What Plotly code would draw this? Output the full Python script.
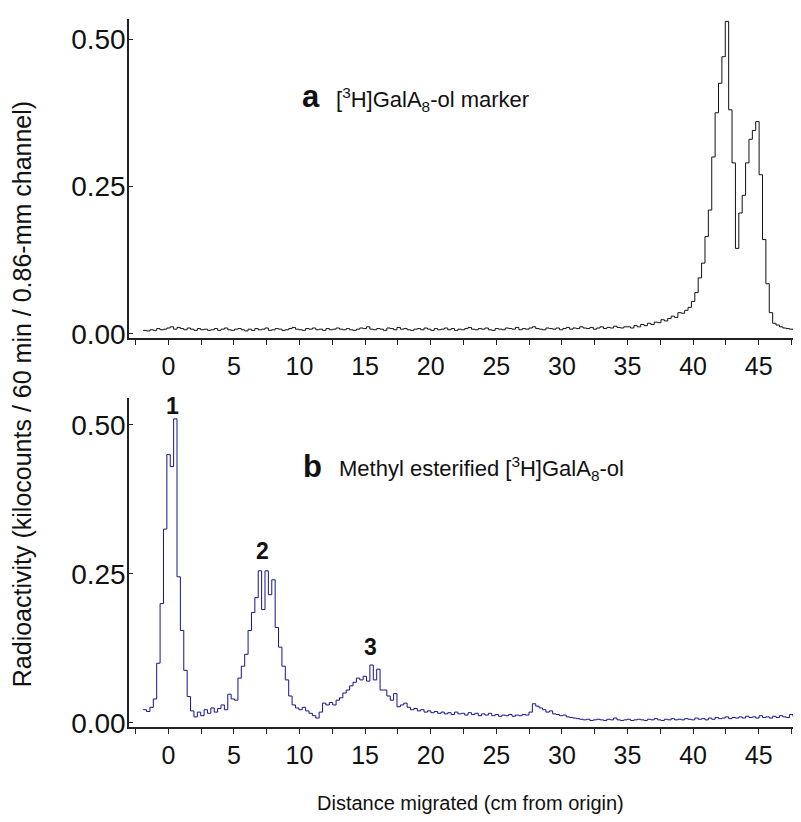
import plotly.graph_objects as go

# channel positions (cm from origin), 3 x 0.86-mm channels per point
x_start = -1.92
x_step = 0.258

# panel a: [3H]GalA8-ol marker (counts; /1000 -> kilocounts)
marker_counts = [
    6, 5, 7, 6, 9, 7, 8, 10, 12, 8, 11, 9, 7, 10, 8, 6, 9, 7, 8, 6,
    7, 9, 6, 8, 10, 7, 6, 8, 9, 7, 5, 8, 6, 9, 7, 8, 10, 6, 7, 9,
    8, 6, 7, 9, 11, 8, 7, 6, 9, 8, 10, 7, 8, 6, 9, 7, 8, 10, 8, 7,
    9, 7, 6, 8, 10, 9, 12, 8, 7, 9, 8, 6, 10, 9, 7, 11, 8, 9, 7, 6,
    8, 9, 7, 10, 8, 6, 9, 7, 8, 10, 7, 9, 6, 8, 7, 9, 11, 8, 7, 9,
    8, 10, 7, 6, 9, 8, 7, 10, 9, 8, 11, 7, 9, 8, 10, 12, 9, 8, 7, 10,
    9, 8, 10, 7, 9, 11, 8, 10, 9, 12, 10, 9, 11, 8, 10, 12, 9, 11, 10, 13,
    11, 10, 12,
    12, 10, 14, 12, 16, 14, 18, 16, 20, 19, 24, 22, 26, 30, 28, 36,
    35, 40, 45, 55, 70, 95, 120, 165, 210, 300, 375, 425, 470, 530, 380, 290,
    145, 205, 235, 290, 330, 345, 360, 270, 160, 85, 36, 18, 15, 12, 10, 9,
    8, 7, 6,
]

# panel b: methyl esterified [3H]GalA8-ol (counts; /1000 -> kilocounts)
ester_counts = [
    22, 19, 26, 40, 100, 200, 325, 450, 430, 510, 245, 155, 88, 44, 20, 10,
    18, 12, 22, 16, 25, 18, 24, 30, 22, 48, 40, 38, 75, 95, 115, 155,
    185, 210, 255, 190, 255, 215, 240, 160, 127, 95, 72, 45, 30, 25, 22, 26,
    20, 16, 12, 8, 18, 33, 30, 34, 30, 38, 42, 50, 55, 62, 68, 75,
    72, 78, 70, 97, 72, 90, 55, 55, 45, 38, 49, 27, 30, 33, 26, 22,
    24, 20, 22, 18, 20, 17, 19, 16, 18, 15, 17, 14, 18, 15, 16, 13,
    17, 14, 16, 12, 15, 13, 16, 12, 14, 11, 13, 12, 14, 11, 13, 12,
    14, 13, 18, 32, 28, 25, 22, 18, 20, 15, 14, 12, 13, 10, 9, 8,
    7, 6, 5, 6, 4, 5, 6, 5, 4, 6, 5, 8, 5, 4, 5, 6,
    4, 5, 6, 5, 4, 6, 5, 7, 5, 4, 6, 5, 7, 5, 6, 5,
    7, 6, 5, 8, 6, 7, 5, 8, 6, 9, 7, 8, 10, 7, 9, 8,
    10, 8, 11, 9, 10, 8, 12, 9, 10, 8, 11, 9, 12, 10, 9, 14,
    11, 12,
]

x_ticks = [0, 5, 10, 15, 20, 25, 30, 35, 40, 45]
y_ticks = [0.0, 0.25, 0.5]
peak_labels = ["1", "2", "3"]
peak_x = [0.3, 7.2, 15.4]
peak_y = [0.532, 0.288, 0.127]

x_a = [x_start + i * x_step for i in range(len(marker_counts))]
x_b = [x_start + i * x_step for i in range(len(ester_counts))]
y_a = [c / 1000 for c in marker_counts]
y_b = [c / 1000 for c in ester_counts]

FONT = "Liberation Sans, Arial, sans-serif"

fig = go.Figure()
fig.add_trace(go.Scatter(x=x_a, y=y_a, mode="lines", line=dict(color="#111111", width=1, shape="hv"),
                         xaxis="x", yaxis="y", showlegend=False))
fig.add_trace(go.Scatter(x=x_b, y=y_b, mode="lines", line=dict(color="#14148c", width=1, shape="hv"),
                         xaxis="x2", yaxis="y2", showlegend=False))

xcommon = dict(range=[-3, 48], tickvals=x_ticks, ticks="outside", ticklen=5, tickwidth=1,
               tickcolor="#222", showline=True, linecolor="#222", linewidth=1.5, showgrid=False,
               zeroline=False, tickfont=dict(family=FONT, size=25, color="#111"),
               minor=dict(dtick=2.5, tick0=0, ticks="outside", ticklen=5, tickwidth=1, tickcolor="#222",
                          showgrid=False))
ycommon = dict(tickvals=y_ticks, tickformat=".2f", ticks="inside", ticklen=4, tickwidth=1,
               tickcolor="#222", showline=True, linecolor="#222", linewidth=1.5, showgrid=False,
               zeroline=False, ticklabelstandoff=-4, tickfont=dict(family=FONT, size=28, color="#111"))

# page body has an 8 px default margin: figure is sized/offset to compensate
fig.update_layout(
    width=793, height=814,
    margin=dict(l=121, r=3, t=11, b=95),
    plot_bgcolor="white", paper_bgcolor="white",
    xaxis=dict(domain=[0, 1], anchor="y", **xcommon),
    yaxis=dict(domain=[0.5494, 1.0], anchor="x", range=[-0.007, 0.534], **ycommon),
    xaxis2=dict(domain=[0, 1], anchor="y2", **xcommon),
    yaxis2=dict(domain=[0.0, 0.4647], anchor="x2", range=[-0.007, 0.545], **ycommon),
)

ann = [
    dict(text="<b>a</b>", x=0.272, y=0.890, xref="paper", yref="paper", showarrow=False,
         font=dict(family=FONT, size=31, color="#111"), xanchor="center", yanchor="middle"),
    dict(text="[<sup>3</sup>H]GalA<sub>8</sub>-ol marker", x=0.3064, y=0.886, xref="paper", yref="paper",
         showarrow=False, font=dict(family=FONT, size=22, color="#111"), xanchor="left", yanchor="middle"),
    dict(text="<b>b</b>", x=0.275, y=0.3686, xref="paper", yref="paper", showarrow=False,
         font=dict(family=FONT, size=31, color="#111"), xanchor="center", yanchor="middle"),
    dict(text="Methyl esterified [<sup>3</sup>H]GalA<sub>8</sub>-ol", x=0.311, y=0.365, xref="paper",
         yref="paper", showarrow=False, font=dict(family=FONT, size=22, color="#111"),
         xanchor="left", yanchor="middle"),
    dict(text="Radioactivity (kilocounts / 60 min / 0.86-mm channel)", x=-0.16, y=0.47,
         xref="paper", yref="paper", showarrow=False, textangle=-90,
         font=dict(family=FONT, size=25, color="#111"), xanchor="center", yanchor="middle"),
    dict(text="Distance migrated (cm from origin)", x=0.51, y=-0.107, xref="paper", yref="paper",
         showarrow=False, font=dict(family=FONT, size=20, color="#111"), xanchor="center", yanchor="middle"),
]
for lab, px, py in zip(peak_labels, peak_x, peak_y):
    ann.append(dict(text="<b>" + lab + "</b>", x=px, y=py, xref="x2", yref="y2", showarrow=False,
                    font=dict(family=FONT, size=23, color="#111"),
                    xanchor="center", yanchor="middle"))
fig.update_layout(annotations=ann)

fig.write_html("out.html")
